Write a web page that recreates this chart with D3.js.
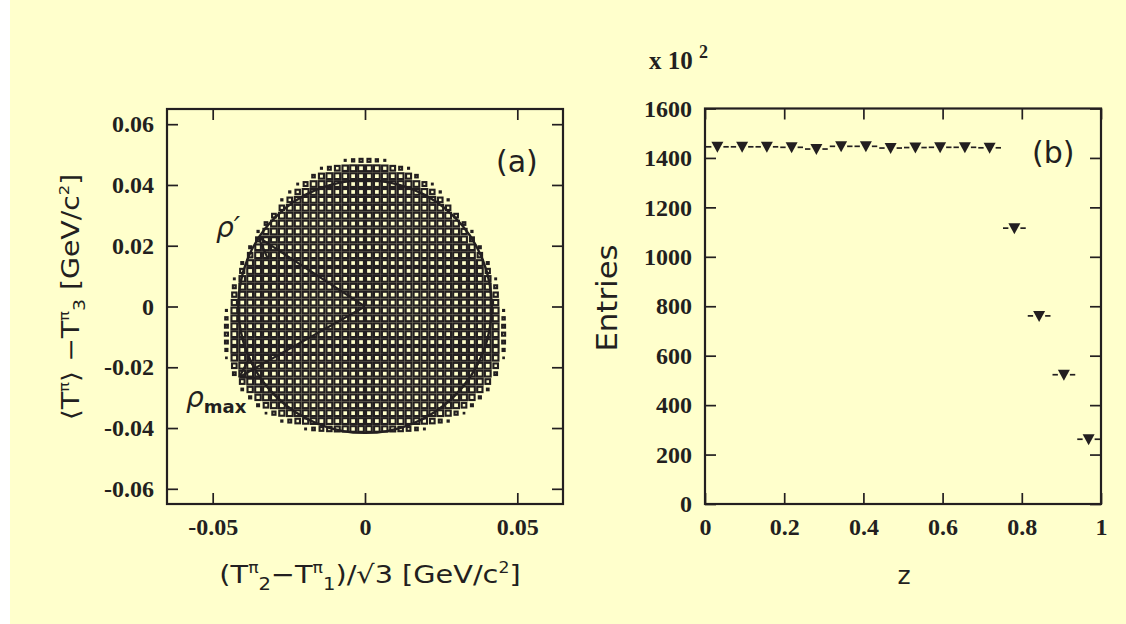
<!DOCTYPE html>
<html><head><meta charset="utf-8">
<script src="https://cdn.jsdelivr.net/npm/d3@7"></script>
<style>html,body{margin:0;padding:0;background:#ffffcc;} svg{display:block}</style>
</head><body><svg id="c" width="1126" height="624"></svg>
<script>
// ---------------- data: panel (a) Dalitz plot ----------------
const dalitzTickValuesX = [-0.05, 0, 0.05];
const dalitzTickLabelsX = ["-0.05", "0", "0.05"];
const dalitzTickValuesY = [0.06, 0.04, 0.02, 0, -0.02, -0.04, -0.06];
const dalitzTickLabelsY = ["0.06", "0.04", "0.02", "0", "-0.02", "-0.04", "-0.06"];
const dalitzRange = [-0.065, 0.065];
const dalitzBinCount = 50;
const dalitzFirstRow = 6;            // first filled bin row (from the top)
// number of fully filled bins on each side of the centre, per bin row
const dalitzRowFull = [0, 2, 5, 6, 8, 9, 10, 11, 11, 12, 13, 13, 14, 14, 15, 15, 16, 16, 16, 16,
                       17, 17, 17, 17, 17, 16, 16, 15, 15, 14, 13, 12, 10, 7, 0];
// relative contents of the partly filled bins further out, per bin row
const dalitzRowEdge = [
  [0.27, 0.15, 0.03], [0.88, 0.66, 0.25, 0.03], [0.75, 0.19], [0.94, 0.45, 0.02], [0.58, 0.04],
  [0.62, 0.04], [0.58], [0.40], [0.95, 0.21], [0.81, 0.04],
  [0.47], [0.94, 0.11], [0.59], [0.96, 0.11], [0.52],
  [0.89, 0.02], [0.25], [0.55], [0.81], [0.98, 0.03],
  [0.16], [0.25], [0.28], [0.24], [0.13],
  [0.91, 0.01], [0.63], [0.99, 0.22], [0.65], [0.83, 0.08],
  [0.85, 0.13], [0.64, 0.11], [0.79, 0.30, 0.01], [0.83, 0.62, 0.25, 0.04],
  [0.95, 0.92, 0.85, 0.74, 0.59, 0.41, 0.20, 0.02]
];
const circleRadius = 0.0416;
const rhoPrimeTip = [-0.035, 0.0228];
const rhoMaxTip = [-0.0412, -0.0232];

// ---------------- data: panel (b) ----------------
const zTickValues = [0, 0.2, 0.4, 0.6, 0.8, 1];
const zTickLabels = ["0", "0.2", "0.4", "0.6", "0.8", "1"];
const entriesTickValues = [0, 200, 400, 600, 800, 1000, 1200, 1400, 1600];
const entriesTickLabels = ["0", "200", "400", "600", "800", "1000", "1200", "1400", "1600"];
const zCenters = [0.03125, 0.09375, 0.15625, 0.21875, 0.28125, 0.34375, 0.40625, 0.46875,
                  0.53125, 0.59375, 0.65625, 0.71875, 0.78125, 0.84375, 0.90625, 0.96875];
const zHalfWidths = [0.03125, 0.03125, 0.03125, 0.03125, 0.03125, 0.03125, 0.03125, 0.03125,
                     0.03125, 0.03125, 0.03125, 0.03125, 0.03125, 0.03125, 0.03125, 0.03125];
const entries = [1445, 1445, 1445, 1443, 1436, 1447, 1447, 1440, 1442, 1443, 1443, 1441,
                 1116, 761, 523, 262];

// ---------------- drawing ----------------
const INK = "#231f20";
const BG = "#ffffcc";
const svg = d3.select("#c");
svg.append("rect").attr("width", 1126).attr("height", 624).attr("fill", BG);
svg.append("rect").attr("width", 10).attr("height", 624).attr("fill", "#ffffff");

const serif = "'Liberation Serif','Times New Roman',serif";
const sans = "'DejaVu Sans',sans-serif";

function styleAxis(g, showLabels) {
  g.select(".domain").remove();
  g.selectAll(".tick line").attr("stroke", INK).attr("stroke-width", 1.7);
  g.selectAll(".tick text").attr("fill", INK).attr("font-family", serif)
    .attr("font-weight", "bold").attr("font-size", 24);
  if (!showLabels) g.selectAll(".tick text").remove();
}

// ===== panel (a) =====
const xa = d3.scaleLinear().domain(dalitzRange).range([167, 563]);
const ya = d3.scaleLinear().domain(dalitzRange).range([504, 109]);
const bw = (dalitzRange[1] - dalitzRange[0]) / dalitzBinCount;

const fmtA = (vals, labs) => d => labs[vals.indexOf(d)];

svg.append("g").attr("transform", "translate(167,0)")
  .call(d3.axisLeft(ya).tickValues(dalitzTickValuesY).tickSize(-11).tickPadding(13)
    .tickFormat(fmtA(dalitzTickValuesY, dalitzTickLabelsY)))
  .call(g => styleAxis(g, true));
svg.append("g").attr("transform", "translate(563,0)")
  .call(d3.axisRight(ya).tickValues(dalitzTickValuesY).tickSize(-11))
  .call(g => styleAxis(g, false));
svg.append("g").attr("transform", "translate(0,504)")
  .call(d3.axisBottom(xa).tickValues(dalitzTickValuesX).tickSize(-11).tickPadding(14)
    .tickFormat(fmtA(dalitzTickValuesX, dalitzTickLabelsX)))
  .call(g => styleAxis(g, true));
svg.append("g").attr("transform", "translate(0,109)")
  .call(d3.axisTop(xa).tickValues(dalitzTickValuesX).tickSize(-11))
  .call(g => styleAxis(g, false));

// boxes
const cells = [];
dalitzRowFull.forEach((full, r) => {
  const j = dalitzFirstRow + r;
  const fr = [];
  for (let k = 0; k < full; k++) fr.push(1);
  dalitzRowEdge[r].forEach(v => fr.push(v));
  fr.forEach((f, k) => {
    [dalitzBinCount / 2 - 1 - k, dalitzBinCount / 2 + k].forEach(i => {
      cells.push({ x: dalitzRange[0] + (i + 0.5) * bw, y: dalitzRange[1] - (j + 0.5) * bw, f });
    });
  });
});
const fullSide = 5.8;
svg.append("g").selectAll("rect").data(cells).join("rect")
  .attr("x", d => xa(d.x) - fullSide * Math.sqrt(d.f) / 2)
  .attr("y", d => ya(d.y) - fullSide * Math.sqrt(d.f) / 2)
  .attr("width", d => fullSide * Math.sqrt(d.f))
  .attr("height", d => fullSide * Math.sqrt(d.f))
  .attr("fill", "none").attr("stroke", INK).attr("stroke-width", 2.1);

// circle
svg.append("ellipse").attr("cx", xa(0)).attr("cy", ya(0))
  .attr("rx", xa(circleRadius) - xa(0)).attr("ry", ya(0) - ya(circleRadius))
  .attr("fill", "none").attr("stroke", INK).attr("stroke-width", 2.4);

function arrow(tip) {
  const x0 = xa(0), y0 = ya(0), x1 = xa(tip[0]), y1 = ya(tip[1]);
  const g = svg.append("g").attr("stroke", INK).attr("stroke-width", 2.2).attr("fill", "none");
  g.append("line").attr("x1", x0).attr("y1", y0).attr("x2", x1).attr("y2", y1);
  const ang = Math.atan2(y0 - y1, x0 - x1);
  [-0.58, 0.58].forEach(da => {
    g.append("line").attr("x1", x1).attr("y1", y1)
      .attr("x2", x1 + 22 * Math.cos(ang + da)).attr("y2", y1 + 22 * Math.sin(ang + da));
  });
}
arrow(rhoPrimeTip);
arrow(rhoMaxTip);

// panel (a) frame
svg.append("rect").attr("x", 167).attr("y", 109).attr("width", 396).attr("height", 395)
  .attr("fill", "none").attr("stroke", INK).attr("stroke-width", 2.2);

// labels panel (a)
svg.append("text").attr("x", 496).attr("y", 172).attr("font-family", sans).attr("font-size", 30)
  .attr("fill", INK).text("(a)");
svg.append("text").attr("x", 216).attr("y", 237).attr("font-family", sans).attr("font-size", 28)
  .attr("font-style", "italic").attr("fill", INK).text("ρ′");
const rm = svg.append("text").attr("x", 186).attr("y", 407).attr("font-family", sans)
  .attr("font-size", 28).attr("font-style", "italic").attr("fill", INK);
rm.append("tspan").text("ρ");
rm.append("tspan").attr("dy", 6).attr("font-size", 18).attr("font-style", "normal")
  .attr("font-weight", "bold").text("max");

// x title (a)
const xt = svg.append("text").attr("transform", "translate(370,583) scale(1.15,1)")
  .attr("text-anchor", "middle")
  .attr("font-family", sans).attr("font-size", 25).attr("fill", INK);
xt.append("tspan").text("(T");
xt.append("tspan").attr("dy", -10).attr("font-size", 15).text("π");
xt.append("tspan").attr("dy", 17).attr("font-size", 17).text("2");
xt.append("tspan").attr("dy", -7).text("−T");
xt.append("tspan").attr("dy", -10).attr("font-size", 15).text("π");
xt.append("tspan").attr("dy", 17).attr("font-size", 17).text("1");
xt.append("tspan").attr("dy", -7).text(")/√3 [GeV/c");
xt.append("tspan").attr("dy", -10).attr("font-size", 15).text("2");
xt.append("tspan").attr("dy", 10).text("]");

// y title (a)
const yt = svg.append("text").attr("transform", "translate(79,297) rotate(-90) scale(1.18,1)")
  .attr("text-anchor", "middle").attr("font-family", sans).attr("font-size", 24).attr("fill", INK);
yt.append("tspan").text("⟨T");
yt.append("tspan").attr("dy", -10).attr("font-size", 14).text("π");
yt.append("tspan").attr("dy", 10).text("⟩ −T");
yt.append("tspan").attr("dy", -10).attr("font-size", 14).text("π");
yt.append("tspan").attr("dy", 16).attr("font-size", 16).text("3");
yt.append("tspan").attr("dy", -6).text("  [GeV/c");
yt.append("tspan").attr("dy", -10).attr("font-size", 14).text("2");
yt.append("tspan").attr("dy", 10).text("]");

// ===== panel (b) =====
const xb = d3.scaleLinear().domain([0, 1]).range([705, 1101]);
const yb = d3.scaleLinear().domain([0, 1600]).range([504, 108.5]);
svg.append("g").attr("transform", "translate(705,0)")
  .call(d3.axisLeft(yb).tickValues(entriesTickValues).tickSize(-11).tickPadding(13)
    .tickFormat(fmtA(entriesTickValues, entriesTickLabels)))
  .call(g => styleAxis(g, true));
svg.append("g").attr("transform", "translate(1101,0)")
  .call(d3.axisRight(yb).tickValues(entriesTickValues).tickSize(-11))
  .call(g => styleAxis(g, false));
svg.append("g").attr("transform", "translate(0,504)")
  .call(d3.axisBottom(xb).tickValues(zTickValues).tickSize(-11).tickPadding(14)
    .tickFormat(fmtA(zTickValues, zTickLabels)))
  .call(g => styleAxis(g, true));
svg.append("g").attr("transform", "translate(0,108.5)")
  .call(d3.axisTop(xb).tickValues(zTickValues).tickSize(-11))
  .call(g => styleAxis(g, false));

const pts = zCenters.map((z, i) => ({ z, h: zHalfWidths[i], v: entries[i] }));
const bars = svg.append("g").attr("stroke", INK).attr("stroke-width", 1.7);
pts.forEach(d => {
  const cx = xb(d.z), cy = yb(d.v), x0 = xb(d.z - d.h) + 1, x1 = xb(d.z + d.h) - 1;
  bars.append("line").attr("x1", x0).attr("x2", cx - 6).attr("y1", cy).attr("y2", cy);
  bars.append("line").attr("x1", cx + 6).attr("x2", x1).attr("y1", cy).attr("y2", cy);
});
svg.append("g").selectAll("path").data(pts).join("path")
  .attr("d", d => {
    const cx = xb(d.z), cy = yb(d.v);
    return `M${cx - 6},${cy - 5}L${cx + 6},${cy - 5}L${cx},${cy + 6}Z`;
  })
  .attr("fill", INK);

svg.append("rect").attr("x", 705).attr("y", 108.5).attr("width", 396).attr("height", 395.5)
  .attr("fill", "none").attr("stroke", INK).attr("stroke-width", 2.2);

svg.append("text").attr("x", 1032).attr("y", 163).attr("font-family", sans).attr("font-size", 30)
  .attr("fill", INK).text("(b)");
const ex = svg.append("text").attr("x", 649).attr("y", 69).attr("font-family", serif)
  .attr("font-weight", "bold").attr("font-size", 25).attr("fill", INK);
ex.append("tspan").text("x 10 ");
ex.append("tspan").attr("dy", -11).attr("font-size", 18).text("2");

svg.append("text").attr("transform", "translate(617,298) rotate(-90) scale(1.1,1)")
  .attr("text-anchor", "middle")
  .attr("font-family", sans).attr("font-size", 28).attr("fill", INK).text("Entries");
svg.append("text").attr("x", 904).attr("y", 584).attr("text-anchor", "middle")
  .attr("font-family", sans).attr("font-size", 25).attr("fill", INK).text("z");
</script></body></html>
